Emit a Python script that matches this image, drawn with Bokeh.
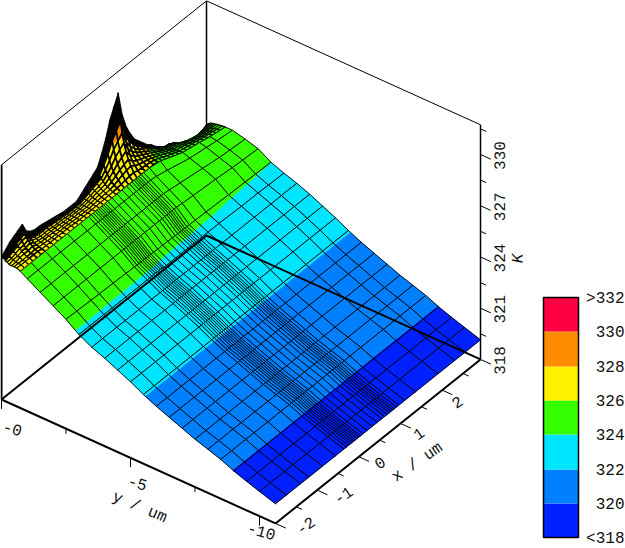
from bokeh.plotting import figure
from bokeh.embed import file_html
from bokeh.resources import INLINE
from bokeh.core.properties import value

# ---------- data ----------
Y_TOP = [0, -0.04, -0.09, -0.15, -0.22, -0.3, -0.39, -0.49, -0.6, -0.73]
X_TOP = [-2.0, -1.9, -1.8, -1.7, -1.6, -1.5, -1.4, -1.3, -1.2, -1.1, -1.0, -0.9, -0.8, -0.7, -0.6,
         -0.5, -0.4, -0.3, -0.2, -0.1, 0.0, 0.1, 0.2, 0.3, 0.4, 0.5, 0.6, 0.7, 0.8, 0.9, 1.0, 1.1,
         1.2, 1.3, 1.4, 1.5, 1.6, 1.7, 1.8, 1.9, 2.0, 2.1, 2.2, 2.3, 2.4, 2.5, 2.6, 2.7, 2.8, 2.92]
# one list per x of X_TOP, one value per y of Y_TOP
Z_TOP_COLUMNS = [
    [326.4, 326.3, 326.3, 326.2, 326.2, 326.1, 326.1, 326.1, 326.1, 326.0],
    [326.6, 326.5, 326.4, 326.3, 326.2, 326.2, 326.1, 326.1, 326.1, 326.0],
    [326.85, 326.7, 326.5, 326.4, 326.3, 326.2, 326.2, 326.1, 326.1, 326.0],
    [327.0, 326.8, 326.6, 326.5, 326.4, 326.3, 326.2, 326.1, 326.1, 326.0],
    [327.15, 326.9, 326.7, 326.6, 326.4, 326.3, 326.2, 326.1, 326.1, 326.0],
    [327.3, 327.0, 326.8, 326.65, 326.5, 326.4, 326.25, 326.15, 326.1, 326.0],
    [326.7, 326.6, 326.45, 326.35, 326.3, 326.2, 326.15, 326.1, 326.05, 326.0],
    [326.5, 326.4, 326.3, 326.25, 326.2, 326.15, 326.1, 326.1, 326.05, 326.0],
    [326.4, 326.3, 326.25, 326.2, 326.15, 326.1, 326.1, 326.05, 326.05, 326.0],
    [326.4, 326.3, 326.25, 326.2, 326.15, 326.1, 326.1, 326.05, 326.05, 326.0],
    [326.35, 326.3, 326.2, 326.2, 326.15, 326.1, 326.1, 326.05, 326.05, 326.0],
    [326.3, 326.25, 326.2, 326.15, 326.1, 326.1, 326.05, 326.05, 326.05, 326.0],
    [326.25, 326.2, 326.15, 326.15, 326.1, 326.1, 326.05, 326.05, 326.05, 326.0],
    [326.2, 326.15, 326.15, 326.1, 326.1, 326.05, 326.05, 326.05, 326.05, 326.0],
    [326.15, 326.12, 326.1, 326.08, 326.06, 326.05, 326.04, 326.03, 326.01, 326.0],
    [326.1, 326.08, 326.07, 326.05, 326.04, 326.03, 326.02, 326.01, 326.01, 326.0],
    [326.1, 326.08, 326.07, 326.05, 326.04, 326.03, 326.02, 326.01, 326.01, 326.0],
    [326.1, 326.08, 326.07, 326.05, 326.04, 326.03, 326.02, 326.01, 326.01, 326.0],
    [326.1, 326.08, 326.07, 326.05, 326.04, 326.03, 326.02, 326.01, 326.01, 326.0],
    [326.3, 326.24, 326.19, 326.15, 326.11, 326.08, 326.06, 326.04, 326.02, 326.0],
    [326.5, 326.4, 326.32, 326.25, 326.19, 326.14, 326.1, 326.06, 326.03, 326.0],
    [326.7, 326.56, 326.45, 326.35, 326.27, 326.2, 326.13, 326.08, 326.04, 326.0],
    [326.9, 326.72, 326.58, 326.45, 326.34, 326.25, 326.17, 326.11, 326.05, 326.0],
    [327.1, 326.88, 326.7, 326.55, 326.42, 326.31, 326.21, 326.13, 326.06, 326.0],
    [327.7, 327.36, 327.09, 326.85, 326.65, 326.48, 326.32, 326.2, 326.09, 326.0],
    [328.4, 327.92, 327.54, 327.2, 326.91, 326.67, 326.46, 326.29, 326.12, 326.0],
    [329.3, 328.64, 328.11, 327.65, 327.25, 326.92, 326.63, 326.4, 326.17, 326.0],
    [329.9, 329.12, 328.5, 327.95, 327.48, 327.09, 326.74, 326.47, 326.2, 326.0],
    [330.5, 329.6, 328.88, 328.25, 327.71, 327.26, 326.86, 326.54, 326.23, 326.0],
    [329.0, 328.4, 327.92, 327.5, 327.14, 326.84, 326.57, 326.36, 326.15, 326.0],
    [328.1, 327.68, 327.34, 327.05, 326.8, 326.59, 326.4, 326.25, 326.11, 326.0],
    [327.5, 327.2, 326.96, 326.75, 326.57, 326.42, 326.29, 326.18, 326.08, 326.0],
    [327.0, 326.8, 326.64, 326.5, 326.38, 326.28, 326.19, 326.12, 326.05, 326.0],
    [326.7, 326.55, 326.43, 326.33, 326.24, 326.16, 326.09, 326.04, 325.99, 325.95],
    [326.4, 326.29, 326.2, 326.13, 326.06, 326.0, 325.95, 325.92, 325.88, 325.85],
    [326.1, 326.03, 325.97, 325.93, 325.88, 325.85, 325.82, 325.79, 325.77, 325.75],
    [325.9, 325.85, 325.81, 325.78, 325.75, 325.72, 325.7, 325.68, 325.66, 325.65],
    [325.6, 325.59, 325.58, 325.58, 325.57, 325.56, 325.56, 325.56, 325.55, 325.55],
    [325.4, 325.41, 325.42, 325.43, 325.43, 325.44, 325.44, 325.44, 325.45, 325.45],
    [325.2, 325.23, 325.25, 325.28, 325.29, 325.31, 325.32, 325.33, 325.34, 325.35],
    [325.15, 325.18, 325.2, 325.23, 325.24, 325.26, 325.27, 325.28, 325.29, 325.3],
    [325.0, 325.05, 325.09, 325.13, 325.16, 325.18, 325.2, 325.22, 325.24, 325.25],
    [324.7, 324.8, 324.88, 324.95, 325.01, 325.06, 325.11, 325.14, 325.18, 325.2],
    [324.5, 324.63, 324.73, 324.83, 324.9, 324.97, 325.03, 325.07, 325.12, 325.15],
    [324.35, 324.5, 324.62, 324.73, 324.82, 324.89, 324.96, 325.01, 325.06, 325.1],
    [324.25, 324.41, 324.54, 324.65, 324.75, 324.83, 324.9, 324.95, 325.01, 325.05],
    [324.2, 324.36, 324.49, 324.6, 324.7, 324.78, 324.85, 324.9, 324.96, 325.0],
    [324.25, 324.39, 324.5, 324.6, 324.68, 324.75, 324.82, 324.87, 324.92, 324.95],
    [324.35, 324.46, 324.55, 324.63, 324.69, 324.75, 324.8, 324.83, 324.87, 324.9],
    [324.5, 324.57, 324.63, 324.68, 324.72, 324.75, 324.78, 324.81, 324.83, 324.85],
]

X_LOW = [-2, -1.74, -1.4, -1.2, -0.87, -0.56, -0.36, -0.3, -0.25, -0.2, -0.16, -0.12, -0.08, -0.04, 0, 0.04, 0.1,
         0.2, 0.32, 0.44, 0.55, 0.62, 0.68, 0.73, 0.77, 0.81, 0.85, 0.9, 0.96, 1.1, 1.36, 1.9, 2.3, 2.55, 2.92]
Y_LOW = [-0.73, -1, -1.5, -2, -2.5, -3, -3.5, -4, -4.5, -5, -5.5, -6, -6.5, -7, -7.5, -8, -8.5, -9, -9.5, -10, -10.62]
# rows that still change along x: the first 29 x positions share one value, the last 6 are listed
Z_LOW_ROW_073 = [326.0] * 29 + [326.0, 325.9, 325.35, 325.15, 325.0, 324.85]
Z_LOW_ROW_100 = [325.75] * 29 + [325.7, 325.55, 325.2, 325.05, 324.95, 324.85]
Z_LOW_ROW_150 = [325.3] * 29 + [325.25, 325.15, 324.95, 324.8, 324.75, 324.67]
Z_LOW_ROW_200 = [324.85] * 29 + [324.8, 324.75, 324.65, 324.55, 324.5, 324.45]
Z_LOW_ROW_250 = [324.4, 324.38, 324.35, 324.33, 324.31, 324.28, 324.27, 324.26, 324.26, 324.25, 324.25, 324.25,
                 324.24, 324.24, 324.24, 324.23, 324.23, 324.22, 324.21, 324.2, 324.19, 324.19, 324.18, 324.18,
                 324.17, 324.17, 324.17, 324.16, 324.16, 324.15, 324.13, 324.08, 324.05, 324.03, 324.0]
Z_LOW_ROW_300 = [323.85] * 15 + [323.8] * 16 + [323.75, 323.75, 323.72, 323.7]
# rows that do not change along x
Z_LOW_FLAT = [323.45, 323.15, 322.8, 322.45, 322.05, 321.7, 321.4, 321.1, 320.8, 320.55, 320.3, 319.97, 319.7,
              319.45, 319.15]

LEVELS = [-1e9, 320, 322, 324, 326, 328, 330, 1e9]
BAND_COLORS = ["#0020ff", "#0080ff", "#00e5ff", "#33ff00", "#fff000", "#ff8c00", "#ff0040"]
LEGEND_LABELS = ["<318", "320", "322", "324", "326", "328", "330", ">332"]

X_MIN, X_MAX = -2, 2.92
Y_MIN, Y_MAX = -10.62, 0
Z_MIN, Z_MAX = 318, 331.74
X_TICKS = [-2, -1.5, -1, -0.5, 0, 0.5, 1, 1.5, 2, 2.5]
X_LABELS = ["-2", "-1", "0", "1", "2"]
X_LABEL_VALUES = [-2, -1, 0, 1, 2]
Y_TICKS = [0, -2.5, -5, -7.5, -10]
Y_LABELS = ["-0", "-5", "-10"]
Y_LABEL_VALUES = [0, -5, -10]
Z_TICKS = [318, 319.5, 321, 322.5, 324, 325.5, 327, 328.5, 330, 331.5]
Z_LABELS = ["318", "321", "324", "327", "330"]
Z_LABEL_VALUES = [318, 321, 324, 327, 330]


# ---------- projection (oblique view, page pixels) ----------
def px(x, y, z=318):
    return 1 + 41.67 * (x + 2) - 25.8 * y


def py(x, y, z=318):
    return 399 - 33.33 * (x + 2) - 11.67 * y - 17.08 * (z - 318)


def clip(poly, lo, hi):
    def cut(pts, keep, level):
        out = []
        n = len(pts)
        for i in range(n):
            a, b = pts[i], pts[(i + 1) % n]
            ka, kb = keep(a[2]), keep(b[2])
            if ka:
                out.append(a)
            if ka != kb:
                t = (level - a[2]) / (b[2] - a[2])
                out.append((a[0] + t * (b[0] - a[0]), a[1] + t * (b[1] - a[1]), level))
        return out
    pts = cut(poly, lambda z: z >= lo, lo)
    if pts:
        pts = cut(pts, lambda z: z <= hi, hi)
    return pts


xs_all, ys_all, fills, fill_a, lines, line_w = [], [], [], [], [], []


def add_cell(quad, width, dark):
    if dark:
        xs_all.append([px(*p) for p in quad])
        ys_all.append([py(*p) for p in quad])
        fills.append("#000000")
        fill_a.append(1.0)
        lines.append("#000000")
        line_w.append(0.8)
        return
    for i in range(len(BAND_COLORS)):
        frag = clip(quad, LEVELS[i], LEVELS[i + 1])
        if len(frag) >= 3:
            xs_all.append([px(*p) for p in frag])
            ys_all.append([py(*p) for p in frag])
            fills.append(BAND_COLORS[i])
            fill_a.append(1.0)
            lines.append(BAND_COLORS[i])
            line_w.append(0.5)
    xs_all.append([px(*p) for p in quad])
    ys_all.append([py(*p) for p in quad])
    fills.append("#000000")
    fill_a.append(0.0)
    lines.append("#000000")
    line_w.append(width)


def add_block(xv, yv, zrows, width, dark_rows=None, peak_width=None):
    # far rows first, and far columns first, so that near cells hide far ones
    for j in range(len(yv) - 1):
        for i in range(len(xv) - 2, -1, -1):
            dark = dark_rows is not None and j < dark_rows(zrows[0][i])
            w = peak_width if peak_width and zrows[0][i] >= 327 else width
            add_cell([(xv[i], yv[j], zrows[j][i]), (xv[i + 1], yv[j], zrows[j][i + 1]),
                      (xv[i + 1], yv[j + 1], zrows[j + 1][i + 1]), (xv[i], yv[j + 1], zrows[j + 1][i])], w, dark)


z_top_rows = [list(r) for r in zip(*Z_TOP_COLUMNS)]
z_low_rows = [Z_LOW_ROW_073, Z_LOW_ROW_100, Z_LOW_ROW_150, Z_LOW_ROW_200, Z_LOW_ROW_250, Z_LOW_ROW_300] + \
             [[v] * len(X_LOW) for v in Z_LOW_FLAT]
# where the reference's mesh is so fine that it prints solid black along the top edge
add_block(X_TOP, Y_TOP, z_top_rows, 1.1, dark_rows=lambda top: 3 if top < 327 else 2, peak_width=1.6)
add_block(X_LOW, Y_LOW, z_low_rows, 0.9)

# ---------- figure ----------
p = figure(width=625, height=548, x_range=(0, 625), y_range=(548, 0), output_backend="svg",
           toolbar_location=None, min_border=0, outline_line_color=None)
p.axis.visible = False
p.grid.visible = False
p.background_fill_color = "#ffffff"
p.border_fill_color = "#ffffff"


def seg(pts, w=1.0):
    p.line([px(*q) for q in pts], [py(*q) for q in pts], line_color="black", line_width=w)


# back walls of the box
seg([(X_MIN, Y_MAX, Z_MIN), (X_MIN, Y_MAX, Z_MAX)], 2)
seg([(X_MIN, Y_MAX, Z_MAX), (X_MAX, Y_MAX, Z_MAX), (X_MAX, Y_MIN, Z_MAX)], 1)
seg([(X_MAX, Y_MAX, Z_MIN), (X_MAX, Y_MAX, Z_MAX)], 1.5)
seg([(X_MAX, Y_MIN, Z_MIN), (X_MAX, Y_MIN, Z_MAX)], 1.5)

# surface
p.patches(xs_all, ys_all, fill_color=fills, fill_alpha=fill_a, line_color=lines, line_width=line_w, line_join="round")

# floor: all four edges are drawn over the surface
seg([(X_MIN, Y_MAX, Z_MIN), (X_MAX, Y_MAX, Z_MIN), (X_MAX, Y_MIN, Z_MIN)], 2)
seg([(X_MIN, Y_MAX, Z_MIN), (X_MIN, Y_MIN, Z_MIN), (X_MAX, Y_MIN, Z_MIN)], 2)

# ticks
for i, t in enumerate(X_TICKS):
    L = 0.4 if i % 2 == 0 else 0.22
    seg([(t, Y_MIN, Z_MIN), (t, Y_MIN - L, Z_MIN)], 1)
for i, t in enumerate(Y_TICKS):
    L = 0.55 if i % 2 == 0 else 0.3
    seg([(X_MIN, t, Z_MIN), (X_MIN, t, Z_MIN - L)], 1)
for i, t in enumerate(Z_TICKS):
    L = 0.4 if i % 2 == 0 else 0.22
    seg([(X_MAX, Y_MIN, t), (X_MAX, Y_MIN - L, t)], 1)

FONT = value("Liberation Mono")


def label(xs, ys, texts, angle, size="16px", align="center", style="normal"):
    p.text(xs, ys, text=texts, angle=angle, text_font=FONT, text_font_size=size, text_align=align,
           text_baseline="middle", text_color="#111111", text_font_style=style)


# tick labels: tick point plus a page-pixel offset
x_off = [(30, 2), (26, 5), (21, 6), (18, 10), (15, 12)]
label([px(v, Y_MIN) + o[0] for v, o in zip(X_LABEL_VALUES, x_off)],
      [py(v, Y_MIN) + o[1] for v, o in zip(X_LABEL_VALUES, x_off)], X_LABELS, 0.6)
y_off = [(11, 29), (7, 25), (2, 15)]
label([px(X_MIN, v) + o[0] for v, o in zip(Y_LABEL_VALUES, y_off)],
      [py(X_MIN, v) + o[1] for v, o in zip(Y_LABEL_VALUES, y_off)], Y_LABELS, -0.28)
label([499] * 5, [py(X_MAX, Y_MIN, v) + 1 for v in Z_LABEL_VALUES], Z_LABELS, 1.57)
label([139], [507], ["y / um"], -0.4)
label([417], [462], ["x / um"], 0.6)
label([518], [258], ["K"], 1.57, style="italic")

# colour legend
legend_bottoms = [537, 503, 469, 434, 400, 366, 331]
legend_tops = [503, 469, 434, 400, 366, 331, 297]
p.quad(left=543, right=578, top=legend_tops, bottom=legend_bottoms, fill_color=BAND_COLORS, line_color=None)
p.quad(left=543, right=578, top=297, bottom=537, fill_color=None, line_color="black", line_width=1.5)
label([624] * 8, [538, 503, 469, 434, 400, 366, 331, 298], LEGEND_LABELS, 0, size="16px", align="right")

open("out.html", "w").write(file_html(p, INLINE))
